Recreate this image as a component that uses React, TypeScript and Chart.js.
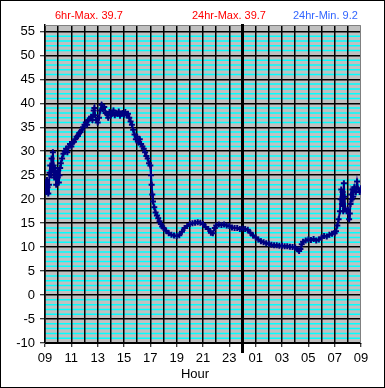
import React, { useEffect, useRef } from "react";
import { Chart, registerables } from "chart.js";

Chart.register(...registerables);

// hours elapsed since 09:00
const hours = [
  0.0, 0.05, 0.1, 0.15, 0.2, 0.25, 0.3, 0.35, 0.4, 0.45, 0.5, 0.55, 0.6, 0.65, 0.7, 0.75, 0.8, 0.85, 0.9, 0.95,
  1.0, 1.05, 1.1, 1.15, 1.2, 1.3, 1.4, 1.5, 1.6, 1.7, 1.8, 1.9, 2.0, 2.1, 2.2, 2.3, 2.4, 2.5, 2.6, 2.7,
  2.8, 2.9, 3.0, 3.1, 3.2, 3.3, 3.4, 3.5, 3.6, 3.7, 3.75, 3.8, 3.9, 4.0, 4.1, 4.2, 4.3, 4.4, 4.5, 4.6,
  4.7, 4.8, 4.9, 5.0, 5.1, 5.2, 5.3, 5.4, 5.5, 5.6, 5.7, 5.8, 5.9, 6.0, 6.1, 6.2, 6.3, 6.4, 6.5, 6.6,
  6.7, 6.8, 6.9, 7.0, 7.1, 7.2, 7.3, 7.4, 7.5, 7.6, 7.7, 7.8, 7.9, 8.0, 8.05, 8.1, 8.15, 8.2, 8.3, 8.4,
  8.5, 8.6, 8.7, 8.8, 8.9, 9.0, 9.2, 9.4, 9.6, 9.8, 10.0, 10.2, 10.4, 10.6, 10.8, 11.0, 11.2, 11.4, 11.6, 11.8,
  12.0, 12.2, 12.4, 12.6, 12.75, 12.9, 13.0, 13.2, 13.4, 13.6, 13.8, 14.0, 14.2, 14.4, 14.6, 14.8, 15.0, 15.2, 15.4, 15.6,
  15.8, 16.0, 16.2, 16.4, 16.6, 16.8, 17.0, 17.2, 17.4, 17.6, 17.8, 18.0, 18.2, 18.4, 18.6, 18.8, 19.0, 19.2, 19.3, 19.4,
  19.5, 19.6, 19.8, 20.0, 20.2, 20.4, 20.6, 20.8, 21.0, 21.2, 21.4, 21.6, 21.8, 22.0, 22.1, 22.2, 22.3, 22.4, 22.45, 22.5,
  22.55, 22.6, 22.65, 22.7, 22.75, 22.8, 22.9, 23.0, 23.1, 23.15, 23.2, 23.25, 23.3, 23.35, 23.4, 23.5, 23.6, 23.7, 23.8, 23.9,
  24.0,
];

const temps = [
  22.0, 23.5, 21.5, 24.0, 22.5, 21.2, 23.0, 25.5, 27.0, 25.0, 28.5, 26.0, 29.8, 27.0, 24.5, 26.5, 25.0, 23.0, 25.5, 24.5,
  26.0, 23.5, 25.0, 26.5, 27.5, 28.5, 29.5, 30.0, 30.5, 29.8, 31.0, 31.5, 31.0, 31.8, 32.0, 32.5, 33.0, 33.2, 33.8, 34.0,
  34.5, 35.0, 35.5, 36.0, 35.5, 36.5, 36.8, 37.2, 36.5, 38.5, 39.0, 37.5, 36.5, 36.0, 37.0, 38.5, 39.7, 38.8, 39.2, 38.0,
  37.8, 37.0, 38.2, 37.5, 37.8, 38.5, 37.5, 37.9, 37.8, 38.3, 37.4, 37.8, 38.0, 37.6, 38.2, 37.5, 37.8, 37.0, 36.2, 35.5,
  34.5, 33.5, 32.5, 33.0, 31.8, 32.5, 31.5, 31.0, 30.5, 29.8, 29.0, 28.5, 27.5, 27.0, 25.0, 23.0, 21.0, 19.5, 18.3, 17.2,
  16.6, 16.0, 15.4, 14.8, 14.3, 14.0, 13.4, 12.9, 12.6, 12.4, 12.3, 12.5, 13.2, 14.0, 14.4, 14.8, 15.0, 15.1, 15.2, 15.1,
  14.8, 14.2, 13.8, 13.0, 12.9, 14.0, 14.5, 14.7, 14.6, 14.7, 14.5, 14.4, 14.1, 14.0, 14.0, 13.8, 13.9, 13.8, 13.6, 13.0,
  12.4, 12.0, 11.6, 11.2, 11.0, 10.8, 10.7, 10.5, 10.4, 10.4, 10.3, 10.3, 10.2, 10.2, 10.1, 10.0, 9.9, 9.5, 9.2, 9.6,
  10.6, 11.1, 11.4, 11.6, 11.5, 11.7, 11.4, 11.6, 12.0, 12.3, 12.2, 12.6, 12.8, 12.9, 13.3, 14.5, 15.8, 17.5, 20.0, 22.0,
  19.0, 21.5, 17.5, 23.3, 20.5, 18.0, 17.5, 17.8, 15.8, 17.0, 19.0, 21.0, 20.0, 22.0, 20.5, 22.5, 21.5, 23.7, 22.0, 21.5,
  22.3,
];

const xTickLabels = ["09", "11", "13", "15", "17", "19", "21", "23", "01", "03", "05", "07", "09"];
const yTickValues = [-10, -5, 0, 5, 10, 15, 20, 25, 30, 35, 40, 45, 50, 55];
const headerTexts = ["6hr-Max. 39.7", "24hr-Max. 39.7", "24hr-Min. 9.2"];
const axisTitle = "Hour";

const FONT = "'Liberation Sans', Arial, sans-serif";

const decor = {
  id: "decor",
  beforeDraw(chart: any) {
    const { ctx, chartArea: a, width, height, scales } = chart;
    ctx.save();
    ctx.fillStyle = "#ffffff";
    ctx.fillRect(0, 0, width, height);
    ctx.fillStyle = "#C0C0C0";
    ctx.fillRect(a.left, a.top, a.right - a.left, a.bottom - a.top);
    // minor (1-unit) cyan grid lines under the major grid
    ctx.strokeStyle = "#00FFFF";
    ctx.lineWidth = 1.5;
    for (let v = -9; v < 55; v++) {
      if (v % 5 === 0) continue;
      const y = scales.y.getPixelForValue(v);
      ctx.beginPath();
      ctx.moveTo(a.left, y);
      ctx.lineTo(a.right, y);
      ctx.stroke();
    }
    ctx.restore();
  },
  beforeDatasetsDraw(chart: any) {
    const { ctx, chartArea: a, scales } = chart;
    ctx.save();
    ctx.strokeStyle = "#808080";
    ctx.lineWidth = 1;
    ctx.beginPath();
    ctx.moveTo(a.left, a.top + 0.5);
    ctx.lineTo(a.right - 0.5, a.top + 0.5);
    ctx.lineTo(a.right - 0.5, a.bottom);
    ctx.stroke();
    const mx = scales.x.getPixelForValue(15);
    ctx.strokeStyle = "#000000";
    ctx.lineWidth = 3;
    ctx.beginPath();
    ctx.moveTo(mx, a.top - 1);
    ctx.lineTo(mx, a.bottom + 10);
    ctx.stroke();
    ctx.restore();
  },
  afterDraw(chart: any) {
    const { ctx, width, height } = chart;
    ctx.save();
    ctx.strokeStyle = "#000000";
    ctx.lineWidth = 1;
    ctx.strokeRect(0.5, 0.5, width - 1, height - 1);
    ctx.font = `11px ${FONT}`;
    ctx.textBaseline = "alphabetic";
    ctx.textAlign = "left";
    ctx.fillStyle = "#FF0000";
    ctx.fillText(headerTexts[0], 55, 19);
    ctx.fillText(headerTexts[1], 192, 19);
    ctx.fillStyle = "#3366FF";
    ctx.fillText(headerTexts[2], 293, 19);
    ctx.fillStyle = "#000000";
    ctx.font = `13px ${FONT}`;
    ctx.textAlign = "center";
    ctx.fillText(axisTitle, 195, 378);
    ctx.restore();
  },
};

export default function App() {
  const ref = useRef<HTMLCanvasElement | null>(null);
  useEffect(() => {
    if (!ref.current) return;
    const data = hours.map((h, i) => ({ x: h, y: temps[i] }));
    const chart = new Chart(ref.current, {
      type: "scatter",
      data: {
        datasets: [
          {
            data,
            showLine: true,
            borderColor: "#000080",
            backgroundColor: "#000080",
            borderWidth: 2,
            pointStyle: "cross",
            pointRadius: 3,
            pointBorderWidth: 2,
            pointBorderColor: "#000080",
          },
        ],
      },
      plugins: [decor],
      options: {
        animation: false,
        responsive: false,
        devicePixelRatio: 1,
        layout: { padding: { top: 25, right: 24, left: 0, bottom: 0 } },
        plugins: { legend: { display: false }, tooltip: { enabled: false }, title: { display: false } },
        scales: {
          x: {
            type: "linear",
            min: 0,
            max: 24,
            afterFit: (s: any) => {
              s.height = 45;
            },
            border: { display: true, color: "#000000", width: 1 },
            grid: {
              color: (c: any) => (c.tick && c.tick.value === 24 ? "rgba(0,0,0,0)" : "#000000"),
              lineWidth: 1.5,
              tickLength: 4,
              tickColor: (c: any) => (c.tick && c.tick.value % 2 === 0 ? "#000000" : "rgba(0,0,0,0)"),
              tickWidth: 1,
            },
            ticks: {
              stepSize: 1,
              autoSkip: false,
              maxRotation: 0,
              padding: 4,
              color: "#000000",
              font: { family: FONT, size: 13 },
              callback: (v: any) => (v % 2 === 0 ? xTickLabels[v / 2] : ""),
            },
          },
          y: {
            type: "linear",
            min: -10,
            max: 56.33,
            afterFit: (s: any) => {
              s.width = 45;
            },
            afterBuildTicks: (s: any) => {
              s.ticks = yTickValues.map((v) => ({ value: v }));
            },
            border: { display: true, color: "#000000", width: 1.5 },
            grid: {
              color: "#000000",
              lineWidth: 1.5,
              tickLength: 5,
              tickColor: "#000000",
              tickWidth: 1,
            },
            ticks: {
              autoSkip: false,
              padding: 5,
              color: "#000000",
              font: { family: FONT, size: 13 },
              callback: (v: any) => String(v),
            },
          },
        },
      },
    });
    return () => chart.destroy();
  }, []);
  return (
    <>
      <style>{`body{margin:0}`}</style>
      <canvas ref={ref} width={385} height={388} style={{ display: "block" }} />
    </>
  );
}
